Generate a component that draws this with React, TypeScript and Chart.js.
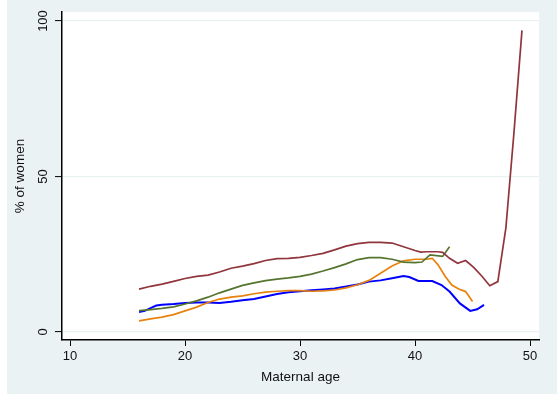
import React, { useEffect, useRef } from 'react';
import { Chart, registerables } from 'chart.js';

Chart.register(...registerables);

const xTickValues = [10, 20, 30, 40, 50];
const yTickValues = [0, 50, 100];

const maroonAges = [16, 17, 18, 19, 20, 21, 22, 23, 24, 25, 26, 27, 28, 29, 30, 31, 32, 33, 34, 35, 36, 37, 38, 39, 40, 40.5, 41, 42, 42.4, 43.0, 43.7, 44.4, 45.1, 45.8, 46.5, 47.2, 47.9, 48.6, 49.3];
const maroonValues = [13.8, 14.7, 15.4, 16.3, 17.2, 17.9, 18.3, 19.3, 20.5, 21.2, 22.0, 23.0, 23.6, 23.7, 24.0, 24.6, 25.3, 26.4, 27.6, 28.4, 28.8, 28.8, 28.6, 27.4, 26.2, 25.7, 25.8, 25.8, 25.6, 23.7, 22.1, 23.0, 20.8, 18.0, 14.9, 16.2, 33.5, 64, 97];

const greenAges = [16, 17, 18, 19, 20, 21, 22, 23, 24, 25, 26, 27, 28, 29, 30, 31, 32, 33, 34, 35, 36, 37, 38, 39, 40, 40.6, 41.3, 42.4, 43.0];
const greenValues = [6.9, 7.2, 7.6, 8.1, 9.0, 10.0, 11.2, 12.6, 13.8, 15.0, 15.8, 16.5, 17.0, 17.4, 17.9, 18.6, 19.6, 20.7, 21.9, 23.3, 23.9, 23.9, 23.4, 22.5, 22.3, 22.5, 24.8, 24.3, 27.4];

const orangeAges = [16, 17, 18, 19, 20, 21, 22, 23, 24, 25, 26, 27, 28, 29, 30, 31, 32, 33, 34, 35, 36, 37, 38, 39, 40, 41, 41.5, 42.0, 42.6, 43.2, 43.8, 44.4, 45.0];
const orangeValues = [3.6, 4.2, 4.8, 5.6, 6.8, 8.0, 9.5, 10.6, 11.2, 11.6, 12.3, 12.8, 13.1, 13.3, 13.3, 13.1, 13.2, 13.5, 14.2, 15.2, 16.6, 18.9, 21.2, 22.9, 23.4, 23.4, 23.7, 21.6, 18.0, 15.1, 13.8, 13.0, 9.8];

const blueAges = [16, 16.5, 17, 17.5, 18, 19, 20, 21, 22, 23, 24, 25, 26, 27, 28, 29, 30, 31, 32, 33, 34, 35, 36, 37, 38, 39, 39.5, 40.3, 41.5, 42.3, 43.0, 43.9, 44.8, 45.4, 46.0];
const blueValues = [6.4, 6.8, 7.7, 8.5, 8.8, 9.0, 9.3, 9.5, 9.5, 9.3, 9.7, 10.2, 10.6, 11.4, 12.2, 12.8, 13.1, 13.4, 13.7, 14.0, 14.6, 15.3, 16.2, 16.6, 17.3, 18.0, 17.7, 16.4, 16.4, 15.1, 13.0, 9.2, 6.8, 7.3, 8.7];

const toPoints = (xs: number[], ys: number[]) => xs.map((x, i) => ({ x, y: ys[i] }));

const bgPlugin = {
  id: 'stataBg',
  beforeDraw(chart: any) {
    const { ctx, chartArea } = chart;
    ctx.save();
    ctx.fillStyle = '#ffffff';
    ctx.fillRect(0, 0, chart.width, chart.height);
    ctx.fillStyle = '#eaf2f3';
    ctx.fillRect(7, 0, chart.width - 7, chart.height);
    ctx.fillStyle = '#ffffff';
    ctx.fillRect(chartArea.left, chartArea.top, chartArea.right - chartArea.left, chartArea.bottom - chartArea.top);
    ctx.restore();
  },
};

export default function App() {
  const ref = useRef<HTMLCanvasElement | null>(null);
  useEffect(() => {
    if (!ref.current) return;
    const tickFont = { family: '"Liberation Sans", Arial, sans-serif', size: 13 };
    const titleFont = { family: '"Liberation Sans", Arial, sans-serif', size: 13.5 };
    const chart = new Chart(ref.current, {
      type: 'line',
      data: {
        datasets: [
          { data: toPoints(maroonAges, maroonValues), borderColor: '#90353b', borderWidth: 1.7, pointRadius: 0, tension: 0, fill: false },
          { data: toPoints(greenAges, greenValues), borderColor: '#55752f', borderWidth: 1.7, pointRadius: 0, tension: 0, fill: false },
          { data: toPoints(orangeAges, orangeValues), borderColor: '#e8820e', borderWidth: 1.7, pointRadius: 0, tension: 0, fill: false },
          { data: toPoints(blueAges, blueValues), borderColor: '#0000ff', borderWidth: 2, pointRadius: 0, tension: 0, fill: false },
        ],
      },
      options: {
        responsive: false,
        animation: false,
        layout: { padding: { left: 0, top: 12, right: 18, bottom: 0 } },
        plugins: { legend: { display: false }, tooltip: { enabled: false } },
        scales: {
          x: {
            type: 'linear',
            min: 9.3,
            max: 50.78,
            afterBuildTicks: (s: any) => { s.ticks = xTickValues.map((v) => ({ value: v })); },
            afterFit: (s: any) => { s.height = 54; },
            grid: { drawOnChartArea: false, tickColor: '#000', tickLength: 6, tickWidth: 1 },
            border: { color: '#000', width: 1.5 },
            ticks: { color: '#111', font: tickFont, padding: 3, maxRotation: 0, autoSkip: false },
            title: { display: true, text: 'Maternal age', color: '#111', font: titleFont, padding: { top: 0, bottom: 9 } },
          },
          y: {
            type: 'linear',
            min: -2.57,
            max: 102.9,
            afterBuildTicks: (s: any) => { s.ticks = yTickValues.map((v) => ({ value: v })); },
            afterFit: (s: any) => { s.width = 62; },
            grid: { color: '#eaf2f3', lineWidth: 1.2, tickColor: '#000', tickLength: 7, tickWidth: 1 },
            border: { color: '#000', width: 1.5 },
            ticks: { color: '#111', font: tickFont, padding: 1, minRotation: 90, maxRotation: 90, crossAlign: 'center', autoSkip: false },
            title: { display: true, text: '% of women', color: '#111', font: titleFont, padding: { top: 12, bottom: 0 } },
          },
        },
      },
      plugins: [bgPlugin],
    } as any);
    return () => chart.destroy();
  }, []);
  return (
    <div style={{ position: 'fixed', left: 0, top: 0, width: 557, height: 394 }}>
      <canvas ref={ref} width={557} height={394} style={{ display: 'block' }} />
    </div>
  );
}
